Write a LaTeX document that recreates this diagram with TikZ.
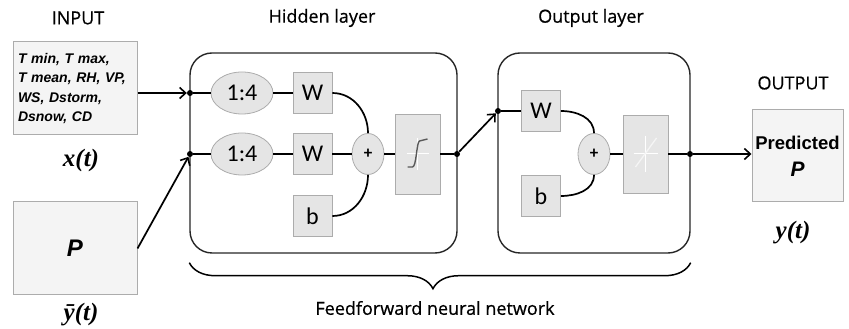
\documentclass[tikz,border=0pt]{standalone}
\usepackage{fontspec}
\usepackage{tikz}
\usetikzlibrary{arrows.meta, shapes.geometric, decorations.pathreplacing}
\usetikzlibrary{calc}

\newfontfamily\lblfont[FakeBold=0.6]{Open Sans}
\newfontfamily\symfont{Carlito}
\newfontfamily\varfont{Liberation Sans}
\newfontfamily\fnfont{Liberation Serif}

\tikzset{
    heading/.style={font=\lblfont\fontsize{18}{20}\selectfont},
    fnlbl/.style={font=\fnfont\bfseries\itshape\fontsize{25}{26}\selectfont},
    inbox/.style={draw=gray!65, fill=gray!9, line width=1pt, minimum width=124pt, minimum height=93pt},
    layer/.style={draw=black!85, line width=1.4pt, rounded corners=22pt},
    unitbox/.style={draw=gray!65, fill=gray!20, line width=0.8pt, minimum width=39pt, minimum height=41pt, inner sep=0pt, font=\symfont\fontsize{24}{24}\selectfont},
    delay/.style={unitbox, ellipse, minimum width=62pt, minimum height=42pt},
    sumnode/.style={unitbox, ellipse, minimum width=32pt, minimum height=41pt, font=\symfont\bfseries\fontsize{17}{17}\selectfont},
    actbox/.style={draw=gray!65, fill=gray!20, line width=0.8pt, minimum width=45pt, minimum height=80pt, inner sep=0pt},
    wire/.style={line width=1.7pt},
    jdot/.style={circle, fill=black, inner sep=0pt, minimum size=6pt},
    tip/.style={-{Straight Barb[length=6pt, width=11pt, line width=1.6pt]}}
}

\begin{document}
\begin{tikzpicture}[x=1pt, y=1pt]
        \useasboundingbox (0,0) rectangle (849,329);

        \node[heading] (inlbl) at (78,311) {INPUT};
        \node[inbox, align=left, text width=114pt, font=\varfont\bfseries\itshape\fontsize{14}{19.5}\selectfont] (in1) at (75,240.5) {T min, T max,\\T mean, RH, VP,\\WS, Dstorm,\\Dsnow, CD};
        \node[fnlbl] (xt) at (81,169) {x(t)};
        \node[inbox, font=\varfont\bfseries\itshape\fontsize{24}{24}\selectfont] (in2) at (75,80.5) {P};
        \node[fnlbl] (ybar) at (81,14) {ȳ(t)};

        \node[heading] (hidlbl) at (322,311) {Hidden layer};
        \node[heading] (outlbl) at (591,311) {Output layer};
        \node[heading] (reslbl) at (793,246) {OUTPUT};

        \node[layer, minimum width=267pt, minimum height=200pt] (hid) at (323.5,176) {};
        \node[layer, minimum width=192pt, minimum height=200pt] (outl) at (594,176) {};

        \node[jdot] (j1) at (190,236) {};
        \node[jdot] (j2) at (190,175) {};
        \node[delay] (e1) at (242,236) {1:4};
        \node[delay] (e2) at (242,175) {1:4};
        \node[unitbox] (w1) at (312.5,236) {W};
        \node[unitbox] (w2) at (312.5,175) {W};
        \node[unitbox] (b1) at (312.5,113) {b};
        \node[sumnode] (s1) at (368,175) {+};
        \node[actbox] (sig) at (417.5,175) {};
        \node[jdot] (j3) at (457,175) {};

        \node[jdot] (j4) at (498,218) {};
        \node[unitbox] (w3) at (541,218) {W};
        \node[unitbox] (b2) at (541,133) {b};
        \node[sumnode] (s2) at (594,175) {+};
        \node[actbox, minimum height=78pt] (lin) at (645.5,175) {};
        \node[jdot] (j5) at (690,175) {};

        \node[inbox, minimum width=91pt, minimum height=92pt, align=center, font=\varfont\bfseries\fontsize{18.5}{27}\selectfont] (res) at (797.5,173) {Predicted\\{\itshape\fontsize{21}{27}\selectfont P}};
        \node[fnlbl] (yt) at (793,96) {y(t)};

        \draw[white, line width=1pt] ([xshift=-11pt]sig.center) -- ([xshift=11pt]sig.center);
        \draw[white, line width=1pt] ([yshift=-16pt]sig.center) -- ([yshift=16pt]sig.center);
        \draw[black!65, line width=1.4pt] ([shift={(-10,-13)}]sig.center) -- ([shift={(-5,-13)}]sig.center) .. controls ([shift={(-1,-13)}]sig.center) and ([shift={(-1,12)}]sig.center) .. ([shift={(2,13)}]sig.center) -- ([shift={(10,15)}]sig.center);

        \draw[white, line width=1pt] ([xshift=-12pt]lin.center) -- ([xshift=12pt]lin.center);
        \draw[white, line width=1pt] ([yshift=-18pt]lin.center) -- ([yshift=18pt]lin.center);
        \draw[gray!8, line width=1.3pt] ([shift={(-10,-13)}]lin.center) -- ([shift={(11,16)}]lin.center);

        \draw[wire, tip] (in1.east |- j1) -- (j1);
        \draw[wire, tip] (in2.east) -- (j2);
        \draw[wire] (j1) -- (e1);
        \draw[wire] (j2) -- (e2);
        \draw[wire] (e1) -- (w1);
        \draw[wire] (e2) -- (w2);
        \draw[wire] (w1.east) to[out=0, in=90] (s1.north);
        \draw[wire] (w2) -- (s1);
        \draw[wire] (b1.east) to[out=0, in=-90] (s1.south);
        \draw[wire] (s1) -- (sig);
        \draw[wire] (sig) -- (j3);

        \draw[wire, tip] (j3) -- (j4);
        \draw[wire] (j4) -- (w3);
        \draw[wire] (w3.east) to[out=0, in=90] (s2.north);
        \draw[wire] (b2.east) to[out=0, in=-90] (s2.south);
        \draw[wire] (s2) -- (lin);
        \draw[wire] (lin) -- (j5);
        \draw[wire, tip] (j5) -- (res.west |- j5);

        \draw[line width=1.5pt, decorate, decoration={brace, mirror, amplitude=26pt, aspect=0.486}] ([yshift=-9pt]hid.south west) -- ([yshift=-9pt]outl.south east);
        \node[heading] (ffnn) at (435,21) {Feedforward neural network};

    \end{tikzpicture}
\end{document}
